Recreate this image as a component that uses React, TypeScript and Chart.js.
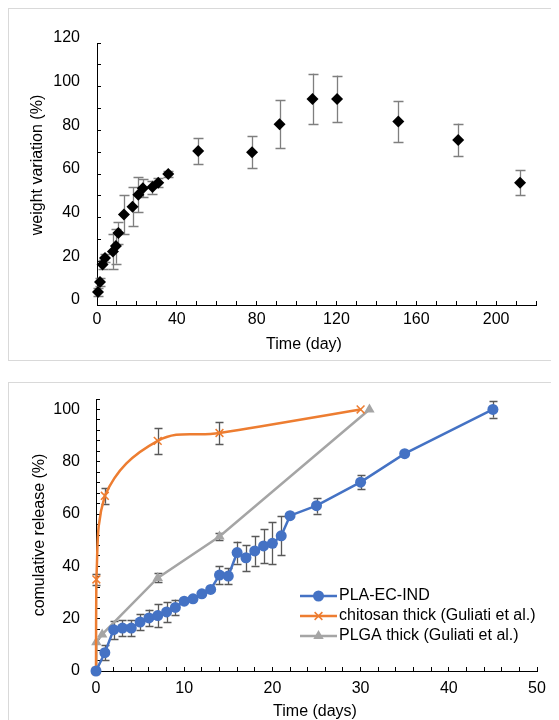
import React, { useEffect, useRef } from 'react';
import { Chart, registerables } from 'chart.js';
import { drawPoint } from 'chart.js/helpers';

Chart.register(...registerables);

// ---------- Top chart: weight variation ----------
const weightDays = [0.5, 1.5, 2.8, 4, 8, 9.5, 10.7, 13.5, 17.8, 20.7, 23, 27.8, 30.7, 35.7, 50.7, 77.7, 91.5, 108, 120.3, 151, 181, 212];
const weightValues = [6, 10.5, 18.5, 21.5, 24.5, 27, 33, 41.5, 45, 50.5, 53.5, 54, 56, 60, 70.5, 70, 82.8, 94.4, 94.4, 84, 75.6, 56];
const weightErrors = [2, 2, 2, 2, 8, 8, 5, 9, 9, 8, 4, 3, 2, 1.5, 6, 7.3, 11, 11.6, 10.7, 9.3, 7.5, 5.7];

// ---------- Bottom chart: cumulative release ----------
const plaDays = [0, 1, 2, 3, 4, 5, 6, 7, 8, 9, 10, 11, 12, 13, 14, 15, 16, 17, 18, 19, 20, 21, 22, 25, 30, 35, 45];
const plaValues = [0, 7, 15.8, 16.4, 16.4, 18.7, 20.3, 21.2, 22.6, 24.3, 26.7, 27.6, 29.5, 31.2, 36.7, 36.3, 45.3, 43.3, 45.9, 47.8, 48.8, 51.7, 59.4, 63.2, 72.2, 83.1, 100];
const plaErrors = [0, 2.9, 3.5, 3, 3, 3.2, 3.2, 4.5, 3.8, 3, 0, 0, 0, 0, 3.5, 3.2, 4.2, 5, 5.6, 6.4, 8, 7.4, 0, 3, 2.6, 0, 3.1];

const chitosanDays = [0, 0.04, 1, 7, 14, 30];
const chitosanValues = [0, 35, 67, 88, 91, 100];
const chitosanErrors = [0, 2, 3, 4.9, 4.2, 0];

const plgaDays = [0, 0.04, 0.7, 7, 14, 31];
const plgaValues = [0, 11, 14, 35.6, 51.4, 100];
const plgaErrors = [0, 0, 0, 1.7, 1.5, 0];

// ---------- Tick labels ----------
const topXMajor = 40;
const topYMajor = 20;
const botXMajor = 10;
const botYMajor = 20;

const FONT = '"Liberation Sans", Arial, Helvetica, sans-serif';
const TEXT = '#000000';

const BLUE = '#4472C4';
const ORANGE = '#ED7D31';
const GRAY = '#A5A5A5';

function toPoints(xs: number[], ys: number[]) {
  return xs.map((x, i) => ({ x, y: ys[i] }));
}

function makeErrorBarPlugin(sets: { index: number; errors: number[] }[], color: string, width: number, cap: number) {
  return {
    id: 'errorBars',
    beforeDatasetsDraw(chart: any) {
      const { ctx } = chart;
      const xs = chart.scales.x;
      const ys = chart.scales.y;
      ctx.save();
      ctx.strokeStyle = color;
      ctx.lineWidth = width;
      sets.forEach((s) => {
        const ds = chart.data.datasets[s.index];
        ds.data.forEach((pt: any, j: number) => {
          const e = s.errors[j];
          if (!e) return;
          const px = Math.round(xs.getPixelForValue(pt.x)) + 0.5;
          const y1 = ys.getPixelForValue(pt.y + e);
          const y2 = ys.getPixelForValue(pt.y - e);
          ctx.beginPath();
          ctx.moveTo(px, y1);
          ctx.lineTo(px, y2);
          ctx.moveTo(px - cap, Math.round(y1) + 0.5);
          ctx.lineTo(px + cap, Math.round(y1) + 0.5);
          ctx.moveTo(px - cap, Math.round(y2) + 0.5);
          ctx.lineTo(px + cap, Math.round(y2) + 0.5);
          ctx.stroke();
        });
      });
      ctx.restore();
    },
  };
}

function makeTitlePlugin(items: { text: string; x: number; y: number; rotate?: boolean }[]) {
  return {
    id: 'axisTitles',
    afterDraw(chart: any) {
      const { ctx } = chart;
      ctx.save();
      ctx.fillStyle = TEXT;
      ctx.font = `16px ${FONT}`;
      ctx.textAlign = 'center';
      ctx.textBaseline = 'middle';
      items.forEach((t) => {
        ctx.save();
        ctx.translate(t.x, t.y);
        if (t.rotate) ctx.rotate(-Math.PI / 2);
        ctx.fillText(t.text, 0, 0);
        ctx.restore();
      });
      ctx.restore();
    },
  };
}

function makeLegendPlugin(x: number, y: number, rowHeight: number, lineLength: number, gap: number) {
  return {
    id: 'insideLegend',
    afterDraw(chart: any) {
      const { ctx } = chart;
      chart.data.datasets.forEach((ds: any, i: number) => {
        const cy = y + i * rowHeight;
        ctx.save();
        ctx.strokeStyle = ds.borderColor;
        ctx.lineWidth = ds.borderWidth;
        ctx.beginPath();
        ctx.moveTo(x, cy);
        ctx.lineTo(x + lineLength, cy);
        ctx.stroke();
        ctx.fillStyle = ds.pointBackgroundColor;
        ctx.strokeStyle = ds.pointBorderColor;
        ctx.lineWidth = ds.pointBorderWidth;
        drawPoint(ctx, { pointStyle: ds.pointStyle, radius: ds.pointRadius, rotation: 0, borderWidth: ds.pointBorderWidth }, x + lineLength / 2, cy);
        ctx.fillStyle = TEXT;
        ctx.font = `16px ${FONT}`;
        ctx.textAlign = 'left';
        ctx.textBaseline = 'middle';
        ctx.fillText(ds.label, x + lineLength + gap, cy);
        ctx.restore();
      });
    },
  };
}

function linearAxis(o: {
  min: number; max: number; step: number; major: number; size: number; horizontal: boolean; padding: number; labelOffset?: number;
}) {
  return {
    type: 'linear' as const,
    min: o.min,
    max: o.max,
    afterFit: (s: any) => {
      if (o.horizontal) s.height = o.size;
      else s.width = o.size;
      s.paddingTop = 0;
      s.paddingBottom = 0;
      s.paddingLeft = 0;
      s.paddingRight = 0;
    },
    border: { display: true, color: '#000000', width: 1 },
    grid: { drawOnChartArea: false, drawTicks: true, tickLength: -4, tickColor: '#000000', tickWidth: 1 },
    title: { display: false },
    ticks: {
      stepSize: o.step,
      autoSkip: false,
      includeBounds: false,
      maxRotation: 0,
      minRotation: 0,
      padding: o.padding,
      labelOffset: o.labelOffset || 0,
      color: TEXT,
      font: { family: FONT, size: 16 },
      callback: (v: any) => {
        const n = Number(v);
        return Math.abs(n / o.major - Math.round(n / o.major)) < 1e-6 ? String(Math.round(n)) : '';
      },
    },
  };
}

function topConfig(): any {
  return {
    type: 'scatter',
    data: {
      datasets: [
        {
          label: 'weight variation',
          data: toPoints(weightDays, weightValues),
          showLine: false,
          pointStyle: 'rectRot',
          pointRadius: 6,
          pointBackgroundColor: '#000000',
          pointBorderColor: '#000000',
          pointBorderWidth: 0,
          clip: false,
        },
      ],
    },
    options: {
      responsive: false,
      animation: false,
      events: [],
      layout: { padding: { left: 0, top: 34, right: 23, bottom: 0 } },
      plugins: { legend: { display: false }, tooltip: { enabled: false } },
      scales: {
        x: linearAxis({ min: 0, max: 220, step: 10, major: topXMajor, size: 55, horizontal: true, padding: 9 }),
        y: linearAxis({ min: 0, max: 120, step: 10, major: topYMajor, size: 88, horizontal: false, padding: 21, labelOffset: -5 }),
      },
    },
    plugins: [
      makeErrorBarPlugin([{ index: 0, errors: weightErrors }], '#7f7f7f', 1.3, 5),
      makeTitlePlugin([
        { text: 'Time (day)', x: 295, y: 336 },
        { text: 'weight variation (%)', x: 29, y: 156, rotate: true },
      ]),
    ],
  };
}

function bottomConfig(): any {
  return {
    type: 'line',
    data: {
      datasets: [
        {
          label: 'PLA-EC-IND',
          data: toPoints(plaDays, plaValues),
          borderColor: BLUE,
          borderWidth: 2.5,
          pointStyle: 'circle',
          pointRadius: 5.5,
          pointBackgroundColor: BLUE,
          pointBorderColor: BLUE,
          pointBorderWidth: 0,
          tension: 0,
          clip: false,
        },
        {
          label: 'chitosan thick (Guliati et al.)',
          data: toPoints(chitosanDays, chitosanValues),
          borderColor: ORANGE,
          borderWidth: 2.5,
          pointStyle: 'crossRot',
          pointRadius: 5.5,
          pointBackgroundColor: ORANGE,
          pointBorderColor: ORANGE,
          pointBorderWidth: 1.5,
          tension: 0.4,
          clip: false,
        },
        {
          label: 'PLGA thick (Guliati et al.)',
          data: toPoints(plgaDays, plgaValues),
          borderColor: GRAY,
          borderWidth: 2.5,
          pointStyle: 'triangle',
          pointRadius: 6,
          pointBackgroundColor: GRAY,
          pointBorderColor: GRAY,
          pointBorderWidth: 0,
          tension: 0,
          clip: false,
        },
      ],
    },
    options: {
      responsive: false,
      animation: false,
      events: [],
      layout: { padding: { left: 0, top: 16, right: 22, bottom: 0 } },
      plugins: { legend: { display: false }, tooltip: { enabled: false } },
      scales: {
        x: linearAxis({ min: 0, max: 50, step: 2, major: botXMajor, size: 60, horizontal: true, padding: 12 }),
        y: linearAxis({ min: 0, max: 104, step: 4, major: botYMajor, size: 87, horizontal: false, padding: 20 }),
      },
    },
    plugins: [
      makeErrorBarPlugin(
        [
          { index: 0, errors: plaErrors },
          { index: 1, errors: chitosanErrors },
          { index: 2, errors: plgaErrors },
        ],
        '#595959',
        1.3,
        4
      ),
      makeTitlePlugin([
        { text: 'Time (days)', x: 306, y: 329 },
        { text: 'comulative release (%)', x: 31, y: 152, rotate: true },
      ]),
      makeLegendPlugin(291, 213, 20, 37, 2),
    ],
  };
}

const boxStyle: React.CSSProperties = {
  boxSizing: 'border-box',
  width: 600,
  borderTop: '1px solid #d9d9d9',
  borderLeft: '1px solid #d9d9d9',
  borderBottom: '1px solid #d9d9d9',
  overflow: 'hidden',
  background: '#ffffff',
};

export default function App() {
  const topRef = useRef<HTMLCanvasElement>(null);
  const botRef = useRef<HTMLCanvasElement>(null);

  useEffect(() => {
    const prev = document.documentElement.style.overflow;
    document.documentElement.style.overflow = 'hidden';
    const c1 = new Chart(topRef.current as HTMLCanvasElement, topConfig());
    const c2 = new Chart(botRef.current as HTMLCanvasElement, bottomConfig());
    return () => {
      c1.destroy();
      c2.destroy();
      document.documentElement.style.overflow = prev;
    };
  }, []);

  return (
    <div style={{ width: 600 }}>
      <div style={{ ...boxStyle, height: 353 }}>
        <canvas ref={topRef} width={550} height={351} style={{ display: 'block' }} />
      </div>
      <div style={{ ...boxStyle, height: 350, marginTop: 21 }}>
        <canvas ref={botRef} width={550} height={348} style={{ display: 'block' }} />
      </div>
    </div>
  );
}
